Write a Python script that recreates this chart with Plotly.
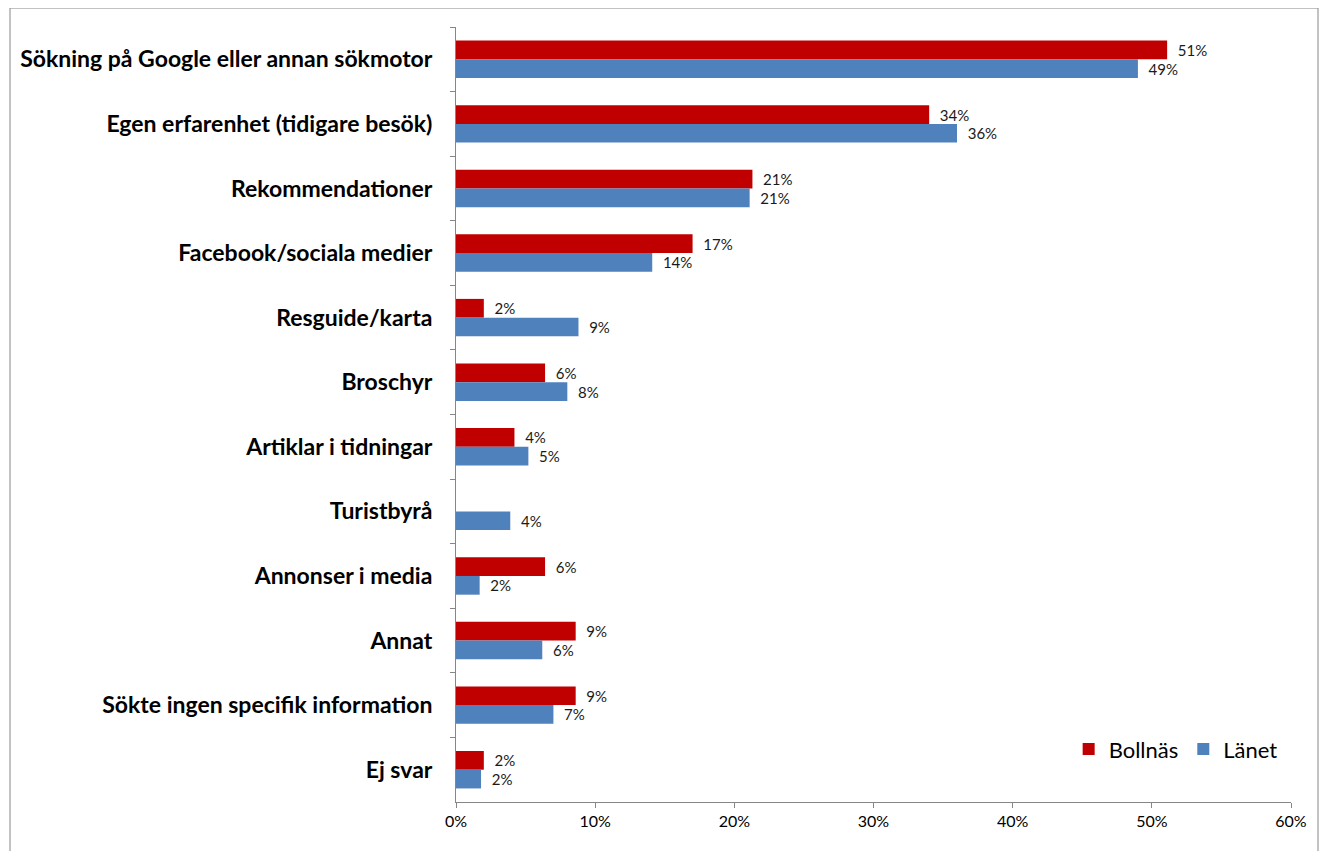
import plotly.graph_objects as go

categories = [
    "Sökning på Google eller annan sökmotor",
    "Egen erfarenhet (tidigare besök)",
    "Rekommendationer",
    "Facebook/sociala medier",
    "Resguide/karta",
    "Broschyr",
    "Artiklar i tidningar",
    "Turistbyrå",
    "Annonser i media",
    "Annat",
    "Sökte ingen specifik information",
    "Ej svar",
]
bollnas = [0.511, 0.340, 0.213, 0.170, 0.020, 0.064, 0.042, 0.0, 0.064, 0.086, 0.086, 0.020]
lanet = [0.490, 0.360, 0.211, 0.141, 0.088, 0.080, 0.052, 0.039, 0.017, 0.062, 0.070, 0.018]

RED = "#C00000"
BLUE = "#4F81BD"
AXIS = "#868686"
FONT = "Lato"

# sidan har 8px marginal i body -> figuren ritas 8px inflyttad
W, H = 1311, 843
L, R, T, B = 448, 28, 19, 49
PW, PH = W - L - R, H - T - B


def labels(vals):
    return ["\u00a0\u00a0%d%%" % round(v * 100) if v > 0 else "" for v in vals]


fig = go.Figure()
for name, vals, color in [("Bollnäs", bollnas, RED), ("Länet", lanet, BLUE)]:
    fig.add_trace(
        go.Bar(
            y=categories,
            x=vals,
            name=name,
            orientation="h",
            marker=dict(color=color, line=dict(width=0)),
            text=labels(vals),
            textposition="outside",
            textfont=dict(family=FONT, size=15, color="#1a1a1a"),
            cliponaxis=False,
        )
    )

fig.update_layout(
    width=W,
    height=H,
    barmode="group",
    bargap=0.42,
    bargroupgap=0,
    plot_bgcolor="white",
    paper_bgcolor="white",
    margin=dict(l=L, r=R, t=T, b=B, autoexpand=False),
    font=dict(family=FONT, color="black"),
    legend=dict(
        orientation="h",
        x=0.99,
        xanchor="right",
        y=0.068,
        yanchor="middle",
        font=dict(size=22, family=FONT),
        itemwidth=30,
        bgcolor="rgba(0,0,0,0)",
    ),
    xaxis=dict(
        range=[0, 0.6],
        dtick=0.1,
        tickformat=".0%",
        showgrid=False,
        zeroline=False,
        showline=True,
        linecolor=AXIS,
        linewidth=1,
        ticks="outside",
        ticklen=5,
        tickcolor=AXIS,
        tickfont=dict(size=16, family=FONT),
    ),
    yaxis=dict(
        autorange="reversed",
        automargin=False,
        showgrid=False,
        showline=True,
        linecolor=AXIS,
        linewidth=1,
        ticks="outside",
        ticklen=5,
        tickcolor=AXIS,
        tickson="boundaries",
        ticklabelstandoff=18,
        tickfont=dict(size=23, family=FONT, weight="bold"),
    ),
    shapes=[
        dict(
            type="rect",
            xref="paper",
            yref="paper",
            x0=(2 - L) / PW,
            x1=(1310 - L) / PW,
            y0=-(B + 20) / PH,
            y1=(PH + T) / PH,
            line=dict(color=AXIS, width=1),
            fillcolor="rgba(0,0,0,0)",
            layer="below",
        )
    ],
)

fig.write_html("out.html")
